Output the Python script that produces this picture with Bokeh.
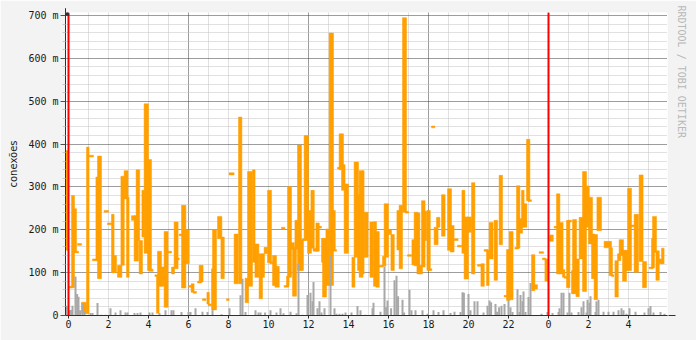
from bokeh.plotting import figure
from bokeh.models import Range1d, FixedTicker, Span, Title, Arrow, NormalHead, BoxAnnotation
from bokeh.embed import file_html
from bokeh.resources import INLINE

# ---- data (hours since midnight, values in conexões * 1000 ["m"]) ----
seg_start = [-0.15, 0.0, 0.15, 0.25, 0.3, 0.45, 0.65, 0.9, 1.03, 1.2, 1.37, 1.45, 1.78, 1.95, 2.15, 2.2,
             2.45, 2.62, 2.78, 2.9, 3.15, 3.28, 3.38, 3.53, 3.67, 3.78, 3.95, 4.03, 4.32, 4.4, 4.45, 4.62,
             4.7, 4.78, 4.95, 5.15, 5.28, 5.37, 5.53, 5.65, 5.77, 6.0, 6.13, 6.23, 6.45, 6.53, 6.7, 6.92,
             6.98, 7.15, 7.2, 7.45, 7.62, 7.9, 8.03, 8.28, 8.5, 8.83, 8.95, 9.2, 9.32, 9.53, 9.67,
             9.78, 9.95, 10.07, 10.2, 10.32, 10.65, 10.78, 10.9, 10.95, 11.12, 11.2, 11.32, 11.45, 11.58,
             11.7, 11.78, 11.95, 12.12, 12.23, 12.37, 12.5, 12.65, 12.7, 12.87, 13.03, 13.17, 13.23, 13.45,
             13.53, 13.65, 13.78, 14.17, 14.28, 14.45, 14.53, 14.7,
             14.78, 15.07, 15.25, 15.37, 15.53, 15.7, 15.78, 15.95, 16.12, 16.42, 16.53, 16.7, 16.83, 16.95,
             17.17, 17.28, 17.42, 17.53, 17.65, 17.78, 17.92, 18.0, 18.15, 18.28, 18.4, 18.65, 18.95, 19.08,
             19.28, 19.45, 19.67,
             19.78, 19.95, 20.15, 20.45, 20.62, 20.78, 20.9, 21.03, 21.28, 21.53, 21.78, 21.9, 22.03, 22.32,
             22.4, 22.53, 22.65, 22.75, 22.9, 22.98, 23.15, 23.25, 23.53, 23.7, 23.82, 24.07, 24.28, 24.4,
             24.53, 24.7,
             24.78, 24.9, 25.0, 25.15, 25.2, 25.37, 25.53, 25.7, 25.82, 26.0, 26.15, 26.28, 26.42, 26.78,
             27.03, 27.15, 27.32, 27.45, 27.53, 27.7, 27.82, 27.95, 28.12, 28.28, 28.53, 28.7, 29.03, 29.15,
             29.2, 29.37, 29.5, 29.65]
seg_dur = [0.15, 0.2, 0.15, 0.15, 0.2, 0.2, 0.25, 0.13, 0.22, 0.25, 0.13, 0.2, 0.22, 0.2, 0.13, 0.2,
           0.22, 0.17, 0.2, 0.13, 0.18, 0.22, 0.18, 0.17, 0.12, 0.22, 0.2, 0.2, 0.13, 0.13, 0.2, 0.2,
           0.2, 0.2, 0.2, 0.15, 0.2, 0.17, 0.17, 0.22, 0.27, 0.17, 0.15, 0.17, 0.2, 0.2, 0.17, 0.12,
           0.17, 0.13, 0.2, 0.22, 0.17, 0.13, 0.25, 0.2, 0.17, 0.17, 0.25, 0.13, 0.2, 0.17, 0.13,
           0.17, 0.2, 0.17, 0.2, 0.22, 0.17, 0.22, 0.13, 0.2, 0.17, 0.2, 0.17, 0.2, 0.17,
           0.17, 0.22, 0.2, 0.17, 0.22, 0.17, 0.15, 0.13, 0.2, 0.17, 0.22, 0.17, 0.17, 0.15,
           0.22, 0.18, 0.22, 0.15, 0.22, 0.12, 0.2, 0.08,
           0.2, 0.18, 0.15, 0.17, 0.2, 0.17, 0.22, 0.2, 0.17, 0.15, 0.17, 0.2, 0.17, 0.2,
           0.2, 0.2, 0.15, 0.17, 0.18, 0.13, 0.17, 0.17, 0.17, 0.2, 0.17, 0.18, 0.2, 0.2,
           0.2, 0.2, 0.15,
           0.22, 0.2, 0.17, 0.2, 0.17, 0.2, 0.13, 0.2, 0.17, 0.17, 0.12, 0.18, 0.2, 0.18,
           0.17, 0.17, 0.13, 0.17, 0.17, 0.17, 0.17, 0.2, 0.22, 0.17, 0.17, 0.17, 0.17, 0.17,
           0.2, 0.12,
           0.17, 0.17, 0.15, 0.13, 0.2, 0.17, 0.2, 0.2, 0.22, 0.2, 0.17, 0.17, 0.23, 0.37,
           0.17, 0.12, 0.17, 0.17, 0.22, 0.2, 0.17, 0.2, 0.17, 0.22, 0.2, 0.2, 0.2, 0.15,
           0.2, 0.17, 0.2, 0.13]
seg_low = [152, 64, 65, 148, 146, 164, 4, 4, 370, 128, 128, 86, 241, 212, 100, 100,
           89, 117, 272, 89, 222, 127, 175, 97, 183, 145, 105, 103, 91, 5, 68, 68,
           108, 19, 146, 97, 109, 130, 186, 64, 121, 66, 54, 52, 76, 78, 35, 27,
           23, 13, 13, 179, 86, 35, 328, 74, 74, 30, 68, 124, 89, 39, 89,
           144, 123, 121, 70, 66, 202, 66, 68, 89, 154, 45, 155, 105, 105,
           175, 175, 145, 157, 150, 150, 204, 124, 43, 70, 70, 152, 150, 342,
           340, 292, 145, 66, 136, 105, 89, 97,
           136, 89, 68, 66, 113, 115, 136, 189, 105, 153, 109, 241, 239, 138,
           118, 116, 97, 97, 113, 175, 105, 105, 438, 165, 206, 185, 152, 148,
           175, 160, 145,
           85, 194, 97, 115, 68, 150, 70, 132, 82, 165, 43, 35, 37, 155,
           157, 192, 206, 206, 268, 266, 58, 62, 145, 130, 80, 173, 204, 97,
           97, 89,
           87, 65, 218, 51, 51, 44, 132, 56, 206, 167, 86, 37, 198, 158,
           93, 91, 43, 128, 140, 80, 105, 105, 207, 101, 126, 65, 109, 111,
           147, 82, 121, 121]
seg_high = [385, 68, 280, 249, 150, 168, 31, 393, 374, 132, 323, 372, 245, 216, 236, 140,
            117, 325, 338, 276, 233, 233, 340, 175, 292, 494, 364, 108, 95, 93, 150, 113,
            113, 196, 150, 113, 218, 134, 190, 257, 200, 70, 74, 56, 80, 117, 39, 54,
            27, 109, 200, 231, 183, 39, 333, 190, 463, 87, 336, 340, 167, 144, 144,
            159, 292, 125, 140, 115, 206, 70, 92, 301, 170, 159, 222, 398, 177,
            179, 420, 245, 292, 157, 216, 208, 180, 180, 202, 659, 245, 154, 346,
            424, 352, 307, 136, 358, 282, 338, 338,
            241, 218, 219, 196, 117, 138, 261, 200, 189, 245, 257, 695, 243, 142,
            177, 241, 239, 117, 268, 243, 245, 109, 442, 206, 229, 282, 296, 210,
            179, 164, 292,
            230, 230, 310, 119, 121, 154, 152, 217, 222, 327, 47, 154, 196, 159,
            303, 226, 292, 261, 411, 270, 142, 72, 149, 134, 132, 188, 208, 284,
            217, 107,
            91, 222, 222, 105, 224, 132, 229, 336, 302, 276, 190, 189, 276, 173,
            158, 95, 128, 144, 177, 152, 152, 297, 211, 236, 328, 126, 113, 180,
            231, 151, 132, 157]

avg_time = [-0.15, 0.0, 0.08, 0.15, 0.3, 0.38, 0.45, 0.53, 0.65, 0.75, 1.05, 1.15, 1.4, 1.6, 1.8, 2.05,
            2.3, 2.55, 2.8, 2.9, 3.25, 3.4, 3.55, 4.0, 4.15, 4.5,
            4.8, 5.1, 5.2, 5.6, 5.95, 6.05, 6.3, 6.65, 6.9, 7.15, 7.6, 8.0, 8.55, 8.65, 8.8, 9.3, 9.45, 9.55,
            9.78, 10.05, 10.35, 10.55, 10.7, 11.05, 11.35, 11.45, 11.65, 11.9, 12.05, 12.15, 12.2, 12.4,
            12.5, 12.6, 12.75, 13.05, 13.25, 13.35, 13.5, 13.65, 13.8, 14.1, 14.4, 14.55,
            14.8, 15.15, 15.2, 15.55, 15.75, 15.83, 15.9, 16.08, 16.25, 16.35, 16.43, 16.65, 16.73, 17.0,
            17.1, 17.3, 17.65, 17.9, 18.2, 18.45, 18.7, 19.05, 19.25, 19.55, 19.65,
            19.72, 19.95, 20.05, 20.25, 20.4, 20.7, 20.9, 21.0, 21.08, 21.3, 21.38, 21.48, 21.6, 21.75,
            21.95, 22.05, 22.15, 22.4, 22.5, 22.55, 22.65, 22.7, 22.8, 22.95, 23.05, 23.6, 23.9, 24.15,
            24.45, 24.5, 24.6,
            24.7, 24.9, 25.0, 25.1, 25.45, 25.6, 25.7, 25.85, 25.9, 26.0, 26.05, 26.3, 26.35, 26.45,
            26.7, 26.95, 27.2, 27.45, 27.6, 27.7, 27.85, 28.0, 28.3, 28.75, 28.95, 29.05, 29.2, 29.55, 29.75]
avg_value = [23, 13, 13, 23, 91, 50, 44, 12, 29, 8, 6, 6, 29, 2, 2, 17,
             7, 12, 7, 7, 6, 6, 7, 7, 7, 6,
             12, 12, 12, 8, 8, 8, 17, 9, 8, 12, 3, 17, 47, 86, 8, 12, 7, 7,
             7, 12, 7, 17, 5, 9, 5, 121, 2, 48, 53, 33, 78, 17,
             33, 7, 17, 140, 17, 4, 4, 4, 7, 7, 22, 12,
             2, 17, 30, 9, 114, 19, 35, 17, 82, 93, 45, 37, 7, 60,
             12, 12, 12, 4, 12, 8, 12, 6, 9, 8, 54,
             53, 50, 12, 33, 33, 7, 23, 35, 31, 27, 9, 19, 23, 27,
             35, 19, 8, 61, 8, 48, 33, 56, 8, 43, 76, 4, 8, 6,
             8, 17, 53,
             53, 7, 53, 7, 8, 19, 33, 7, 37, 30, 45, 8, 33, 37,
             9, 9, 9, 12, 17, 12, 4, 17, 9, 7, 17, 22, 7, 8, 4]

x_tick_hours = [0, 2, 4, 6, 8, 10, 12, 14, 16, 18, 20, 22, 24, 26, 28]
x_tick_labels = ["0", "2", "4", "6", "8", "10", "12", "14", "16", "18", "20", "22", "0", "2", "4"]
y_tick_values = [0, 100, 200, 300, 400, 500, 600, 700]
y_tick_labels = ["0", "100 m", "200 m", "300 m", "400 m", "500 m", "600 m", "700 m"]
midnights = [0, 24]

ORANGE = "#ff9f00"
GRAY = "#a8a8a8"
MONO = "DejaVu Sans Mono"

X0, X1, Y0, Y1 = -0.15, 29.95, 0, 707
p = figure(width=696, height=340, output_backend="svg", toolbar_location=None,
           x_range=Range1d(X0, X1), y_range=Range1d(Y0, Y1),
           min_border_left=65, min_border_right=29, min_border_top=12, min_border_bottom=25)
p.background_fill_color = "white"
p.border_fill_color = "#f3f3f3"
p.outline_line_color = None

# grids
p.xgrid.ticker = FixedTicker(ticks=[0, 6, 12, 18, 24],
                             minor_ticks=[h for h in range(0, 30) if h % 6 != 0])
p.ygrid.ticker = FixedTicker(ticks=y_tick_values,
                             minor_ticks=[v for v in range(20, 707, 20) if v % 100 != 0])
for g in (p.xgrid, p.ygrid):
    g.grid_line_color = "#3a3a3a"
    g.grid_line_dash = "1 1"
    g.grid_line_width = 1
    g.minor_grid_line_color = "#c2c2c2"
    g.minor_grid_line_dash = "1 1"
    g.minor_grid_line_width = 1

# data
right = [s + d for s, d in zip(seg_start, seg_dur)]
p.quad(left=seg_start, right=right, bottom=seg_low, top=seg_high,
       fill_color=ORANGE, line_color=ORANGE, line_width=0.5)
p.quad(left=avg_time, right=[t + 0.1 for t in avg_time], bottom=0, top=avg_value,
       fill_color=GRAY, line_color=None)

for m in midnights:
    p.add_layout(Span(location=m, dimension="height", line_color="#ff0000", line_width=2))

# axes
xa = p.xaxis[0]
xa.ticker = FixedTicker(ticks=x_tick_hours, minor_ticks=[])
xa.major_label_overrides = {h: l for h, l in zip(x_tick_hours, x_tick_labels)}
ya = p.yaxis[0]
ya.ticker = FixedTicker(ticks=y_tick_values,
                        minor_ticks=[v for v in range(20, 707, 20) if v % 100 != 0])
ya.major_label_overrides = {v: l for v, l in zip(y_tick_values, y_tick_labels)}
for ax in (xa, ya):
    ax.axis_line_color = "#303030"
    ax.major_label_text_font = MONO
    ax.major_label_text_font_size = "10px"
    ax.major_label_text_color = "#1a1a1a"
    ax.major_tick_in = 0
    ax.minor_tick_in = 0
xa.major_tick_out = 3
xa.major_tick_line_color = "#303030"
xa.major_label_standoff = 1
ya.major_tick_out = 5
ya.major_tick_line_color = "#505050"
ya.minor_tick_out = 3
ya.minor_tick_line_color = "#c8c8c8"
ya.major_label_standoff = 2
ya.axis_label = "conexões"
ya.axis_label_text_font = "DejaVu Sans"
ya.axis_label_text_font_size = "10px"
ya.axis_label_text_font_style = "normal"
ya.axis_label_text_color = "#1a1a1a"
ya.axis_label_standoff = 6

# axis arrows
p.add_layout(Arrow(end=NormalHead(size=7, fill_color="#303030", line_color="#303030"),
                   x_start=X0, y_start=700, x_end=X0, y_end=717, line_color="#303030"))
p.add_layout(Arrow(end=NormalHead(size=7, fill_color="#303030", line_color="#303030"),
                   x_start=29.8, y_start=0, x_end=30.35, y_end=0, line_color="#303030"))

# canvas 3D frame (rrdtool-style shading), placed in data space just outside the frame
px_x = (X1 - X0) / 602.0
px_y = (Y1 - Y0) / 303.0
cl, cr = X0 - 65 * px_x, X1 + 29 * px_x
ct, cb = Y1 + 12 * px_y, Y0 - 25 * px_y
for (l, r, b, t, c) in [(cl, cr, ct - 2 * px_y, ct, "#cbcbcb"),
                        (cl, cl + 2 * px_x, cb, ct, "#cbcbcb"),
                        (cl, cr, cb, cb + 2 * px_y, "#9d9d9d"),
                        (cr - 2 * px_x, cr, cb, ct, "#9d9d9d")]:
    p.add_layout(BoxAnnotation(left=l, right=r, bottom=b, top=t, fill_color=c, fill_alpha=1,
                               line_color=None, level="overlay"))

# watermark
p.add_layout(Title(text="RRDTOOL / TOBI OETIKER", text_font=MONO, text_font_size="10px",
                   text_color="#b8b8b8", text_font_style="normal", align="left",
                   standoff=16, offset=-7), "right")

open("out.html", "w").write(file_html(p, INLINE))
